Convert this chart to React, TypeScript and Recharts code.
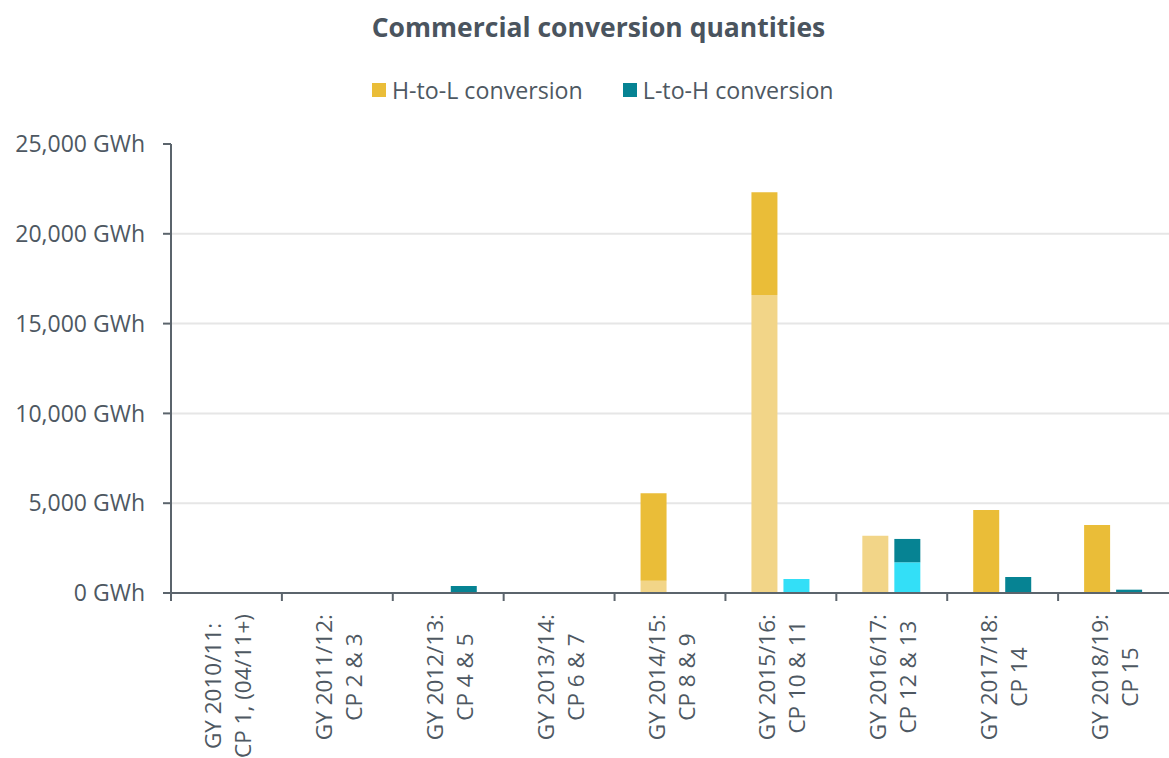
import { BarChart, Bar, XAxis, YAxis, CartesianGrid } from "recharts";

const firstLines = [
  "GY 2010/11:", "GY 2011/12:", "GY 2012/13:", "GY 2013/14:", "GY 2014/15:",
  "GY 2015/16:", "GY 2016/17:", "GY 2017/18:", "GY 2018/19:",
];
const secondLines = [
  "CP 1, (04/11+)", "CP 2 & 3", "CP 4 & 5", "CP 6 & 7", "CP 8 & 9",
  "CP 10 & 11", "CP 12 & 13", "CP 14", "CP 15",
];

// GWh, stacked light + dark parts
const hToLLight = [0, 0, 0, 0, 685, 16590, 3190, 0, 0];
const hToLDark = [0, 0, 0, 0, 4865, 5720, 0, 4620, 3786];
const lToHLight = [0, 0, 0, 0, 0, 780, 1710, 0, 0];
const lToHDark = [0, 0, 390, 0, 0, 0, 1300, 890, 185];

const yTicks = [0, 5000, 10000, 15000, 20000, 25000];

const data = firstLines.map((name, i) => ({
  name,
  hlLight: hToLLight[i],
  hlDark: hToLDark[i],
  lhLight: lToHLight[i],
  lhDark: lToHDark[i],
}));

const FONT = "'Open Sans', sans-serif";
const TEXT = "#4e5862";
const AXIS = "#5b646c";
const GOLD = "#eabd38";
const GOLD_LIGHT = "#f2d588";
const TEAL = "#068393";
const CYAN = "#33dff7";

const W = 1169;
const H = 758;
const PLOT_LEFT = 171;
const PLOT_BOTTOM = 593;
const BAND = (W - PLOT_LEFT) / firstLines.length;
const LABEL_SIZE = 22.5;

let ctx: CanvasRenderingContext2D | null = null;
const measure = (s: string) => {
  if (!ctx) ctx = document.createElement("canvas").getContext("2d");
  if (!ctx) return s.length * 12;
  ctx.font = `${LABEL_SIZE}px ${FONT}`;
  return ctx.measureText(s).width;
};

const CategoryTick = (props: any) => {
  const { x, index } = props;
  const lines = [firstLines[index], secondLines[index]];
  const w = Math.max(...lines.map(measure));
  const top = 614;
  const edge = x - BAND / 2;
  return (
    <g>
      <line x1={edge} x2={edge} y1={PLOT_BOTTOM} y2={PLOT_BOTTOM + 8} stroke={AXIS} strokeWidth={2} />
      <g transform={`translate(${x},${top + w / 2}) rotate(-90)`}>
        <text textAnchor="middle" fill={TEXT} fontSize={LABEL_SIZE} fontFamily={FONT}>
          <tspan x={0} y={-14} dominantBaseline="central">{lines[0]}</tspan>
          <tspan x={0} y={16} dominantBaseline="central">{lines[1]}</tspan>
        </text>
      </g>
    </g>
  );
};

const App = () => {
  return (
    <div style={{ position: "absolute", left: 0, top: 0, width: W, height: H, background: "#fff", fontFamily: FONT }}>
      <div style={{ position: "absolute", left: 0, width: 1197, top: 8, textAlign: "center", fontWeight: 700, fontSize: 26.5, color: "#4a545e", lineHeight: "38px" }}>
        Commercial conversion quantities
      </div>
      <div style={{ position: "absolute", left: 372, top: 73, display: "flex", alignItems: "center", fontSize: 23.2, color: TEXT, lineHeight: "34px" }}>
        <span style={{ width: 14, height: 14, background: GOLD, marginRight: 6 }} />
        <span style={{ marginRight: 40 }}>H-to-L conversion</span>
        <span style={{ width: 14, height: 14, background: TEAL, marginRight: 6 }} />
        <span>L-to-H conversion</span>
      </div>
      <BarChart
        width={W}
        height={H}
        data={data}
        margin={{ top: 144, right: 0, left: 0, bottom: 0 }}
        barSize={26}
        barGap={6}
        style={{ position: "absolute", left: 0, top: 0 }}
      >
        <CartesianGrid
          vertical={false}
          stroke="#e6e6e6"
          strokeWidth={2}
          horizontalValues={[5000, 10000, 15000, 20000]}
        />
        <XAxis
          dataKey="name"
          height={H - PLOT_BOTTOM}
          interval={0}
          tick={<CategoryTick />}
          tickLine={false}
          axisLine={{ stroke: AXIS, strokeWidth: 2 }}
        />
        <YAxis
          width={PLOT_LEFT}
          domain={[0, 25000]}
          ticks={yTicks}
          interval={0}
          tickSize={8}
          tickMargin={18}
          tickFormatter={(v: number) => `${v.toLocaleString("en-US")} GWh`}
          tick={{ fill: TEXT, fontSize: 23, fontFamily: FONT }}
          axisLine={{ stroke: AXIS, strokeWidth: 2 }}
          tickLine={{ stroke: AXIS, strokeWidth: 2 }}
        />
        <Bar dataKey="hlLight" stackId="hl" fill={GOLD_LIGHT} isAnimationActive={false} />
        <Bar dataKey="hlDark" stackId="hl" fill={GOLD} isAnimationActive={false} />
        <Bar dataKey="lhLight" stackId="lh" fill={CYAN} isAnimationActive={false} />
        <Bar dataKey="lhDark" stackId="lh" fill={TEAL} isAnimationActive={false} />
      </BarChart>
    </div>
  );
};

export default App;
